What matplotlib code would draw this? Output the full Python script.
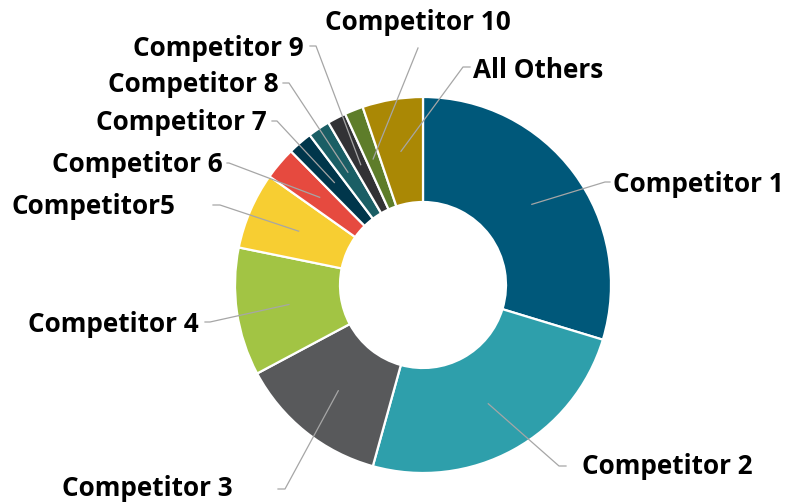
import matplotlib
matplotlib.use("Agg")
import matplotlib.pyplot as plt
import numpy as np

labels = ["Competitor 1", "Competitor 2", "Competitor 3", "Competitor 4", "Competitor5",
          "Competitor 6", "Competitor 7", "Competitor 8", "Competitor 9", "Competitor 10",
          "All Others"]
shares = [29.7, 24.6, 12.9, 11.0, 6.6, 2.8, 2.1, 1.9, 1.6, 1.6, 5.2]
colors = ["#00587A", "#2E9FAB", "#58595B", "#A2C444", "#F7CE32", "#E64A3F",
          "#00364B", "#1A5E65", "#323235", "#5E7D2A", "#AA8805"]

H = 504
# label layout (pixel coords): text x, text y, ha, elbow, horizontal end
layout = [
    (613, 185, "left", (605, 182), (610, 182)),
    (582, 467, "left", (559, 466), (566, 466)),
    (233, 489, "right", (285, 489), (278, 489)),
    (199, 324, "right", (210, 322), (205, 322)),
    (175, 207, "right", (220, 205), (213, 205)),
    (223, 165, "right", (229, 163), (227, 163)),
    (267, 123, "right", (277, 121), (272, 121)),
    (279, 85, "right", (289, 83), (283, 83)),
    (304, 48, "right", (316, 46), (310, 46)),
    (325, 23, "left", (418, 48), None),
    (473, 70, "left", (463, 67), (470, 67)),
]

fig = plt.figure(figsize=(7.86, 5.04), dpi=100)
ax = fig.add_axes([0, 0, 1, 1])
cx, cy, R, W = 423, H - 285, 188, 105
wedges, _ = ax.pie(shares, colors=colors, startangle=90, counterclock=False,
                   radius=R, center=(cx, cy), frame=True,
                   wedgeprops=dict(width=W, edgecolor="white", linewidth=1.6))

for w, lab, (tx, ty, ha, elb, hend) in zip(wedges, labels, layout):
    mid = np.deg2rad((w.theta1 + w.theta2) / 2)
    rr = w.r - w.width / 2
    ax_, ay_ = cx + rr * np.cos(mid), cy + rr * np.sin(mid)
    xs = [ax_, elb[0]]
    ys = [ay_, H - elb[1]]
    if hend is not None:
        xs.append(hend[0]); ys.append(H - hend[1])
    ax.plot(xs, ys, color="#A6A6A6", lw=0.9, zorder=3)
    ax.text(tx, H - ty, lab, ha=ha, va="center", fontsize=18.8,
            fontweight="bold", family="Open Sans", color="black")

ax.set_xlim(0, 786)
ax.set_ylim(0, H)
ax.set_aspect("equal")
ax.axis("off")
fig.savefig("out.png", dpi=100)
